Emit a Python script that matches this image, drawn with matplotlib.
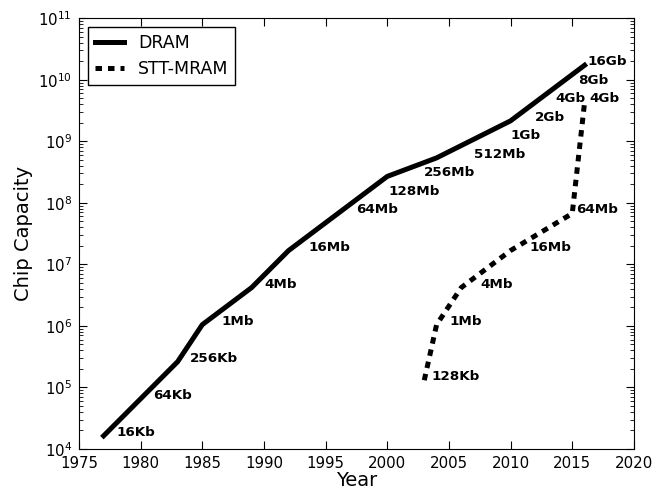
import matplotlib
matplotlib.use("Agg")
import matplotlib.pyplot as plt

Kb = 1024
Mb = 1024 * Kb
Gb = 1024 * Mb

# DRAM line
dram_years = [1977, 1980, 1983, 1985, 1989, 1992, 1996, 2000, 2004, 2010, 2016]
dram_bits = [16*Kb, 64*Kb, 256*Kb, 1*Mb, 4*Mb, 16*Mb, 64*Mb, 256*Mb, 512*Mb, 2*Gb, 16*Gb]

# STT-MRAM line
mram_years = [2003, 2004, 2006, 2010, 2015, 2016]
mram_bits = [128*Kb, 1*Mb, 4*Mb, 16*Mb, 64*Mb, 4*Gb]

# labels (text, capacity)
dram_labels = ["16Kb", "64Kb", "256Kb", "1Mb", "4Mb", "16Mb", "64Mb", "128Mb",
               "256Mb", "512Mb", "1Gb", "2Gb", "4Gb", "8Gb", "16Gb"]
dram_label_bits = [16*Kb, 64*Kb, 256*Kb, 1*Mb, 4*Mb, 16*Mb, 64*Mb, 128*Mb,
                   256*Mb, 512*Mb, 1*Gb, 2*Gb, 4*Gb, 8*Gb, 16*Gb]
mram_labels = ["128Kb", "1Mb", "4Mb", "16Mb", "64Mb", "4Gb"]
mram_label_bits = [128*Kb, 1*Mb, 4*Mb, 16*Mb, 64*Mb, 4*Gb]

# where the label text starts (year axis)
dram_label_x = [1978.05, 1981.0, 1984.0, 1986.55, 1990.06, 1993.57, 1997.5, 2000.06,
                2003.0, 2007.0, 2010.0, 2012.0, 2013.6, 2015.5, 2016.2]
mram_label_x = [2003.56, 2005.04, 2007.55, 2011.5, 2015.3, 2016.4]

fig = plt.figure(figsize=(6.67, 4.93), dpi=100)
ax = fig.add_axes([0.1184, 0.0892, 0.832, 0.874])

lw = 3.6
ax.plot(dram_years, dram_bits, color="black", lw=lw, label="DRAM")
ax.plot(mram_years, mram_bits, color="black", lw=lw, linestyle=(0, (1.3, 1.2)),
        label="STT-MRAM")

for txt, x, y in zip(dram_labels, dram_label_x, dram_label_bits):
    ax.text(x, y, txt, fontsize=9.7, fontweight="bold", va="baseline", ha="left")
for txt, x, y in zip(mram_labels, mram_label_x, mram_label_bits):
    ax.text(x, y, txt, fontsize=9.7, fontweight="bold", va="baseline", ha="left")

ax.set_yscale("log")
ax.set_xlim(1975, 2020)
ax.set_ylim(1e4, 1e11)
ax.set_xticks(range(1975, 2021, 5))
ax.tick_params(which="both", direction="in", top=True, right=True, labelsize=10.8)
ax.tick_params(which="major", length=5.5, pad=5)
ax.tick_params(which="minor", length=2.8)
ax.set_xlabel("Year", fontsize=14, labelpad=0)
ax.set_ylabel("Chip Capacity", fontsize=14)

leg = ax.legend(loc="upper left", fontsize=12.5, fancybox=False, framealpha=1,
                edgecolor="black", handlelength=1.7)
leg.get_frame().set_linewidth(1.0)

fig.savefig("out.png", dpi=100)
